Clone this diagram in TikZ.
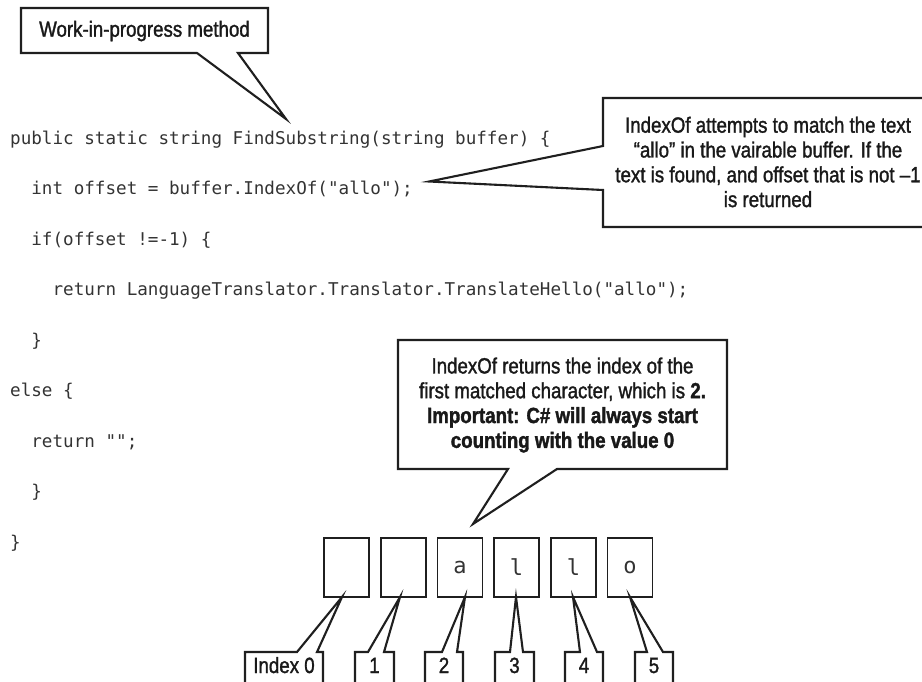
\documentclass[tikz,border=0pt]{standalone}
\usepackage{fontspec}
\setmainfont{Liberation Sans}[FakeStretch=0.85, FakeBold=1.4, BoldFeatures={FakeBold=1.6}]
\newfontfamily\codefont{DejaVu Sans Mono}
\usetikzlibrary{calc}
\begin{document}
\begin{tikzpicture}[x=1pt,y=-1pt,
  callout/.style={draw=black!88, line width=2.1pt, fill=white, line join=miter},
  note/.style={font=\fontsize{22}{24.8}\selectfont, align=center, text=black!90, inner sep=0},
  code/.style={font=\codefont\fontsize{17.6}{20}\selectfont, anchor=base west, inner sep=0, text=black!80},
  cell/.style={draw=black!88, line width=1.7pt, minimum width=45pt, minimum height=59pt, inner sep=0,
               font=\codefont\fontsize{22}{22}\selectfont, text=black!80},
  idx/.style={font=\fontsize{22}{24}\selectfont, anchor=base, inner sep=0, text=black!90}]
\useasboundingbox (0,0) rectangle (922,681);

% code lines
\node[code] (code0) at (10,144) {public static string FindSubstring(string buffer) \{};
\node[code] (code1) at (31.2,194.5) {int offset = buffer.IndexOf("allo");};
\node[code] (code2) at (31.2,245) {if(offset !=-1) \{};
\node[code] (code3) at (52.4,295.5) {return LanguageTranslator.Translator.TranslateHello("allo");};
\node[code] (code4) at (31.2,346) {\}};
\node[code] (code5) at (10,396.5) {else \{};
\node[code] (code6) at (31.2,447) {return "";};
\node[code] (code7) at (31.2,497.5) {\}};
\node[code] (code8) at (10,548) {\}};

% top-left callout
\coordinate (tipA) at (286,119);
\draw[callout] (21,8) -- (268,8) -- (268,53) -- (238,53) -- (tipA) -- (197,53) -- (21,53) -- cycle;
\node[note] (wip) at (144.5,31) {Work-in-progress method};

% right callout
\coordinate (tipB) at ($(code1.base east)+(16,-13)$);
\draw[callout] (603,98) -- (935,98) -- (935,227) -- (603,227) -- (603,190) -- (tipB) -- (603,146) -- cycle;
\node[note] (noteB) at (768,162) {IndexOf attempts to match the text\\“allo” in the vairable buffer. If the\\text is found, and offset that is not –1\\is returned};

% cells
\foreach \c/\x [count=\k from 0] in {{}/346.5,{}/403.5,a/460,l/516.5,l/573.5,o/630}
  {\node[cell] (c\k) at (\x,567.5) {\c};}

% middle callout
\coordinate (tipC) at (473,524);
\draw[callout] (398,340) -- (727,340) -- (727,469) -- (557,469) -- (tipC) -- (508,469) -- (398,469) -- cycle;
\node[note] (noteC) at (562.5,405) {IndexOf returns the index of the\\first matched character, which is \textbf{2.}\\\textbf{Important: C\# will always start}\\\textbf{counting with the value 0}};

% index labels
\foreach \L/\R/\ba/\bb/\tx/\lab [count=\k from 0] in {
  245/323/297/317/342/{Index 0},
  355/394/368/384/400/1,
  425/463/442/457/465/2,
  495/534/510/523/516/3,
  565/603/580/597/573/4,
  635/673/647/663/630/5}
  {\coordinate (t\k) at (\tx,597);
   \draw[callout] (\L,690) -- (\L,652) -- (\ba,652) -- (t\k) -- (\bb,652) -- (\R,652) -- (\R,690);
   \node[idx] (i\k) at ({(\L+\R)/2},673) {\lab};}
\end{tikzpicture}
\end{document}
